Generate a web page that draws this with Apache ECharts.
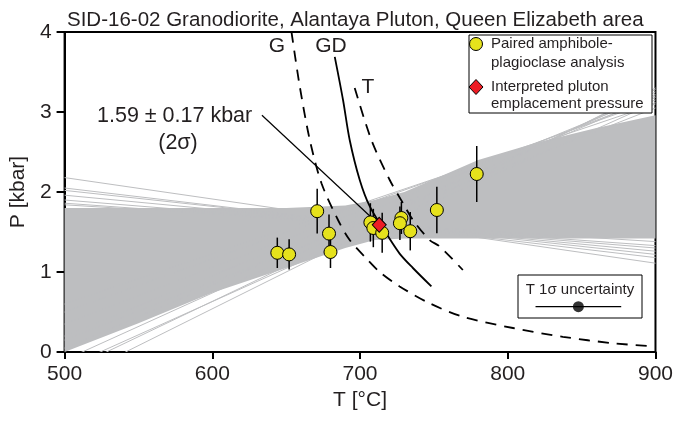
<!DOCTYPE html>
<html>
<head>
<meta charset="utf-8">
<script src="https://cdn.jsdelivr.net/npm/echarts@6/dist/echarts.min.js"></script>
<style>
  html, body { margin: 0; padding: 0; background: #fff; }
  #chart { width: 676px; height: 422px; }
</style>
</head>
<body>
<div id="chart"></div>
<script>
// amphibole-plagioclase pairs: T [°C], P [kbar], 2σ on P
var pairT = [644, 652, 671, 679, 680, 707, 709, 715, 728, 727, 734, 752, 779];
var pairP = [1.24, 1.22, 1.76, 1.48, 1.25, 1.62, 1.55, 1.49, 1.675, 1.61, 1.51, 1.775, 2.225];
var pairErr = [0.19, 0.19, 0.28, 0.24, 0.20, 0.24, 0.24, 0.25, 0.20, 0.21, 0.24, 0.29, 0.35];

// interpreted emplacement pressure
var plutonT = 713;
var plutonP = 1.59;

// solidus curves (T, P)
var curveG = [[653.6, 4.0], [659.2, 3.32], [666, 2.65], [673.9, 2.11], [685.1, 1.65], [693, 1.40],
  [703.2, 1.19], [713.3, 1.0], [726.8, 0.82], [747, 0.61], [769.6, 0.44], [803.5, 0.30],
  [837.3, 0.19], [871, 0.11], [895, 0.075]];
var curveGD = [[682.9, 3.69], [688.5, 3.15], [693, 2.65], [699.8, 2.15], [706.6, 1.82],
  [717.8, 1.48], [726.8, 1.23], [735.8, 1.05], [748.3, 0.82]];
var curveT = [[696.4, 3.30], [707.7, 2.65], [720.1, 2.15], [729.1, 1.86], [735.8, 1.65],
  [747.1, 1.40], [753.9, 1.32], [769.6, 1.025]];

// Monte Carlo regression band: dense core envelope
var bandT = [500, 550, 600, 650, 690, 710, 730, 750, 780, 820, 860, 900];
var bandUpper = [1.80, 1.80, 1.80, 1.80, 1.83, 1.90, 2.00, 2.16, 2.40, 2.62, 2.80, 2.96];
var bandLower = [0.0, 0.36, 0.74, 1.05, 1.30, 1.40, 1.42, 1.42, 1.42, 1.42, 1.42, 1.42];
// individual outer lines: P at T=500 and P at T=900
var lineAt500 = [2.18, 2.05, 2.02, 1.96, 1.90, 1.86, 1.84, -0.38, -0.25, -0.10, 0.05, 0.20, 0.35, 0.50, 0.60, 0.15, -0.20];
var lineAt900 = [1.11, 1.18, 1.22, 1.26, 1.30, 1.33, 1.38, 3.30, 3.28, 3.25, 3.20, 3.22, 3.18, 3.15, 3.10, 3.05, 3.12];

// leader line from the annotation to the pluton pressure
var leader = [[633.6, 2.96], [plutonT, plutonP]];

// T 1σ uncertainty inset
var sigmaT = 847.8;
var sigmaHalf = 29;
var sigmaP = 0.566;

var FONT = 'Liberation Sans, Arial, sans-serif';
var INK = '#231f20';
var GREY = '#bdbec0';

var pairData = pairT.map(function (t, i) { return [t, pairP[i], pairErr[i]]; });
var outerLines = lineAt500.map(function (p, i) { return [p, lineAt900[i]]; });

function label(x, y, text, size, align) {
  return {
    type: 'text', x: x, y: y, z: 12,
    style: { text: text, font: size + 'px ' + FONT, fill: INK,
      textAlign: align || 'center', textVerticalAlign: 'middle' }
  };
}

var chart = echarts.init(document.getElementById('chart'));

var option = {
  animation: false,
  backgroundColor: '#fff',
  title: {
    text: 'SID-16-02 Granodiorite, Alantaya Pluton, Queen Elizabeth area',
    left: 62, top: 5,
    textStyle: { fontFamily: FONT, fontSize: 20.5, fontWeight: 'normal', color: INK }
  },
  grid: {
    left: 64.5, right: 20, top: 32, bottom: 70,
    show: true, borderColor: '#000', borderWidth: 2, backgroundColor: 'transparent'
  },
  xAxis: {
    type: 'value', min: 500, max: 900, interval: 100,
    name: 'T [°C]', nameLocation: 'middle', nameGap: 35,
    nameTextStyle: { fontFamily: FONT, fontSize: 21, color: INK },
    axisLine: { lineStyle: { color: '#000', width: 2 } },
    axisTick: { length: 7, lineStyle: { color: '#000', width: 2 } },
    axisLabel: { fontFamily: FONT, fontSize: 21, color: INK, margin: 12 },
    splitLine: { show: false }
  },
  yAxis: {
    type: 'value', min: 0, max: 4, interval: 1,
    name: 'P [kbar]', nameLocation: 'middle', nameGap: 32,
    nameTextStyle: { fontFamily: FONT, fontSize: 21, color: INK },
    axisLine: { lineStyle: { color: '#000', width: 2 } },
    axisTick: { length: 8, lineStyle: { color: '#000', width: 2 } },
    axisLabel: { fontFamily: FONT, fontSize: 21, color: INK, margin: 13 },
    splitLine: { show: false }
  },
  series: [
    {
      // dense core of the regression band
      type: 'custom', z: 1, clip: true, silent: true,
      data: [[0]],
      renderItem: function (params, api) {
        var pts = [];
        for (var i = 0; i < bandT.length; i++) pts.push(api.coord([bandT[i], bandUpper[i]]));
        for (var j = bandT.length - 1; j >= 0; j--) pts.push(api.coord([bandT[j], bandLower[j]]));
        return { type: 'polygon', shape: { points: pts }, style: { fill: GREY } };
      }
    },
    {
      // outer regression lines
      type: 'custom', z: 1, clip: true, silent: true,
      data: outerLines,
      renderItem: function (params, api) {
        var a = api.coord([500, api.value(0)]);
        var b = api.coord([900, api.value(1)]);
        return {
          type: 'line',
          shape: { x1: a[0], y1: a[1], x2: b[0], y2: b[1] },
          style: { stroke: GREY, lineWidth: 1 }
        };
      }
    },
    {
      type: 'line', name: 'G', data: curveG, smooth: 0.3, symbol: 'none', z: 3,
      lineStyle: { color: '#000', width: 1.8, type: [11, 8] }
    },
    {
      type: 'line', name: 'GD', data: curveGD, smooth: 0.3, symbol: 'none', z: 3,
      lineStyle: { color: '#000', width: 1.8 }
    },
    {
      type: 'line', name: 'T', data: curveT, smooth: 0.3, symbol: 'none', z: 3,
      lineStyle: { color: '#000', width: 1.8, type: [11, 8] }
    },
    {
      type: 'line', data: leader, symbol: 'none', z: 3,
      lineStyle: { color: '#000', width: 1.2 }
    },
    {
      // 2σ error bars
      type: 'custom', z: 4, silent: true,
      data: pairData,
      renderItem: function (params, api) {
        var lo = api.coord([api.value(0), api.value(1) - api.value(2)]);
        var hi = api.coord([api.value(0), api.value(1) + api.value(2)]);
        return {
          type: 'line',
          shape: { x1: lo[0], y1: lo[1], x2: hi[0], y2: hi[1] },
          style: { stroke: '#000', lineWidth: 1.5 }
        };
      }
    },
    {
      type: 'scatter', name: 'Paired amphibole-plagioclase analysis', z: 5,
      data: pairData, symbol: 'circle', symbolSize: 13,
      itemStyle: { color: '#e6e21c', borderColor: '#000', borderWidth: 1, opacity: 1 }
    },
    {
      type: 'scatter', name: 'Interpreted pluton emplacement pressure', z: 6,
      data: [[plutonT, plutonP]], symbol: 'diamond', symbolSize: [14, 15],
      itemStyle: { color: '#ed1c24', borderColor: '#000', borderWidth: 1, opacity: 1 }
    },
    {
      // T 1σ uncertainty sample
      type: 'line', z: 11, symbol: 'none',
      data: [[sigmaT - sigmaHalf, sigmaP], [sigmaT + sigmaHalf, sigmaP]],
      lineStyle: { color: '#000', width: 1.2 }
    },
    {
      type: 'scatter', z: 11, data: [[sigmaT, sigmaP]], symbolSize: 11,
      itemStyle: { color: '#000' }
    }
  ],
  graphic: [
    // curve labels
    label(277, 46, 'G', 21),
    label(331, 46, 'GD', 21),
    label(368, 87, 'T', 21),
    // annotation
    label(97, 116, '1.59 ± 0.17 kbar', 21.5, 'left'),
    label(178, 143, '(2σ)', 21.5),
    // legend box
    {
      type: 'rect', z: 10,
      shape: { x: 469, y: 35, width: 183, height: 78 },
      style: { fill: '#fff', stroke: '#000', lineWidth: 1 }
    },
    {
      type: 'circle', z: 11, shape: { cx: 476, cy: 44, r: 6.5 },
      style: { fill: '#e6e21c', stroke: '#000', lineWidth: 1 }
    },
    label(491, 44, 'Paired amphibole-', 15, 'left'),
    label(491, 63, 'plagioclase analysis', 15, 'left'),
    {
      type: 'polygon', z: 11,
      shape: { points: [[476, 79.5], [483, 87], [476, 94.5], [469, 87]] },
      style: { fill: '#ed1c24', stroke: '#000', lineWidth: 1 }
    },
    label(491, 87, 'Interpreted pluton', 15, 'left'),
    label(491, 104, 'emplacement pressure', 15, 'left'),
    // T 1σ uncertainty box
    {
      type: 'rect', z: 10,
      shape: { x: 518, y: 275, width: 124, height: 43 },
      style: { fill: '#fff', stroke: '#000', lineWidth: 1 }
    },
    label(580, 290, 'T 1σ uncertainty', 15)
  ]
};

chart.setOption(option);
</script>
</body>
</html>
